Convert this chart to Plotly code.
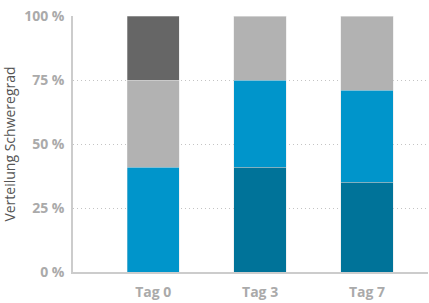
import plotly.graph_objects as go

categories = ["Tag 0", "Tag 3", "Tag 7"]
dark_blue = [0, 41, 35]
light_blue = [41, 34, 36]
light_grey = [34, 25, 29]
dark_grey = [25, 0, 0]
tick_vals = [0, 25, 50, 75, 100]
tick_text = ["0 %", "25 %", "50 %", "75 %", "100 %"]

series = [
    (dark_blue, "#007399"),
    (light_blue, "#0095cb"),
    (light_grey, "#b2b2b2"),
    (dark_grey, "#666666"),
]

fig = go.Figure()
for vals, col in series:
    fig.add_trace(go.Bar(
        x=list(range(len(categories))), y=vals, marker=dict(color=col, line=dict(color="rgba(220,220,220,0.6)", width=0.6)),
        width=0.49, showlegend=False,
    ))

font = "Open Sans"
fig.update_layout(
    barmode="stack",
    width=429, height=303,
    margin=dict(l=73, r=1, t=16, b=31),
    paper_bgcolor="white", plot_bgcolor="white",
    font=dict(family=font, color="#aaaaaa", size=13),
    xaxis=dict(
        range=[-0.75, 2.57], tickvals=list(range(len(categories))), ticktext=categories,
        showgrid=False, showline=True, linecolor="#cccccc", linewidth=1.5,
        tickfont=dict(family=font, size=14, color="#aaaaaa", weight="bold"), ticks="",
        ticklabelstandoff=6,
        zeroline=False,
    ),
    yaxis=dict(
        range=[0, 100], tickvals=tick_vals, ticktext=tick_text,
        showgrid=True, gridcolor="#c4c4c4", griddash="1px,3px", gridwidth=1,
        showline=True, linecolor="#cccccc", linewidth=1.5, zeroline=False,
        tickfont=dict(family=font, size=14, color="#aaaaaa", weight="bold"), ticks="",
        ticklabelstandoff=4,
        title=dict(text="Verteilung Schweregrad", font=dict(family=font, size=14, color="#555555"), standoff=8),
    ),
)
fig.write_html("out.html")
